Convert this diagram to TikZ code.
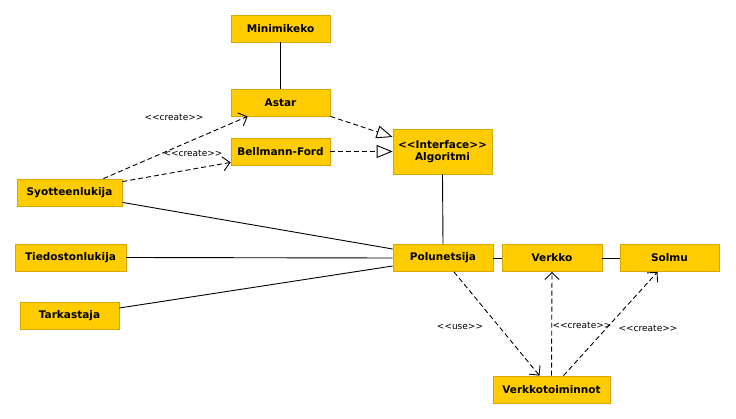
\documentclass[tikz,border=0pt]{standalone}
\usepackage{fontspec}
\setmainfont{DejaVu Sans}
\usepackage{tikz}
\usetikzlibrary{positioning, calc}
\usetikzlibrary{arrows.meta}

\begin{document}
\begin{tikzpicture}[x=1pt,y=-1pt]
\definecolor{classgold}{RGB}{255,204,0};
\definecolor{classedge}{RGB}{214,168,0};
\useasboundingbox (0,0) rectangle (736,419);
\tikzstyle{every node}=[draw=classedge,
                        fill=classgold,
                        line width=0.8pt,
                        minimum width=99pt,
                        minimum height=27pt,
                        inner sep=0pt,
                        font=\fontsize{10.5}{12}\selectfont\bfseries];
\node (mini) at (280.5,28.5) {Minimikeko};
\node (astar) at (280.5,102.5) {Astar};
\node (bf) at (280.5,151.5) {Bellmann-Ford};
\node [minimum height=45pt,align=center] (algo) at (442.5,151.5) {<{}<Interface>{}>\\Algoritmi};
\node [minimum width=105pt] (syo) at (69.5,192.5) {Syotteenlukija};
\node [minimum width=111pt] (tied) at (70.5,257.5) {Tiedostonlukija};
\node (tark) at (69.5,315.5) {Tarkastaja};
\node [minimum width=100pt] (polu) at (443,258) {Polunetsija};
\node [minimum width=100pt] (verkko) at (552,258) {Verkko};
\node (solmu) at (669.5,258) {Solmu};
\node [minimum width=117pt] (vt) at (551.5,389.5) {Verkkotoiminnot};
\tikzstyle{every node}=[font=\fontsize{9}{10}\selectfont];
\tikzstyle{every path}=[line width=0.9pt];
\tikzstyle{dep}=[dash pattern=on 5pt off 3pt, -{Straight Barb[length=7pt,width=14pt]}];
\tikzstyle{impl}=[dash pattern=on 5pt off 3pt, -{Triangle[open,length=16pt,width=13pt,fill=white]}];
\draw (mini.south) -- (astar.north);
\draw [impl] (astar.south east) -- ([yshift=14.5]algo.west);
\draw [impl] (bf.east) -- (algo.west);
\draw [dep] ([xshift=-19]syo.north east) -- ([xshift=17]astar.south west);
\draw [dep] ([yshift=-3]syo.north east) -- ([yshift=3]bf.south west);
\node at (174,117) {<{}<create>{}>};
\node at (193,153) {<{}<create>{}>};
\draw (algo.south) -- (polu.north);
\draw ([yshift=4]syo.south east) -- ([yshift=9]polu.west);
\draw (tied.east) -- (polu.west);
\draw ([yshift=7.5]tark.east) -- ([yshift=-8]polu.west);
\draw (polu.east) -- (verkko.west);
\draw (verkko.east) -- (solmu.west);
\draw [dep] ([xshift=11]polu.south) -- ([xshift=-12]vt.north);
\draw [dep] (vt.north) -- (verkko.south);
\draw [dep] ([xshift=12]vt.north) -- ([xshift=-12]solmu.south);
\node at (460,327) {<{}<use>{}>};
\node at (582,325) {<{}<create>{}>};
\node at (648,328) {<{}<create>{}>};

\end{tikzpicture}
\end{document}
